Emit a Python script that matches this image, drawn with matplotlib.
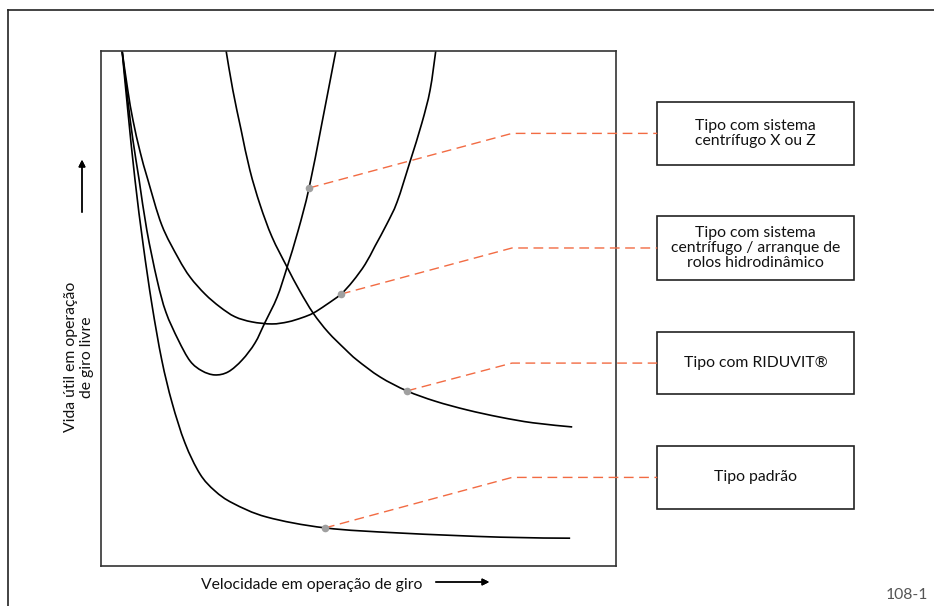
import matplotlib
matplotlib.use("Agg")
import numpy as np
import matplotlib.pyplot as plt
from matplotlib.lines import Line2D
from matplotlib.patches import Rectangle, PathPatch
from matplotlib.path import Path

plt.rcParams['font.family'] = ['Lato', 'DejaVu Sans']

W, H = 934, 606

# curves (axis units 0..100)
std_x = [4.1, 5.2, 6.6, 8.2, 9.9, 11.8, 13.8, 16.3, 19.2, 22.1, 25.6, 32.2, 43.5, 58.1,
         77.5, 91.1]
std_y = [100, 88.5, 75.0, 62.3, 50.7, 40.0, 31.7, 23.9, 17.9, 14.6, 12.2, 9.5, 7.4, 6.4,
         5.6, 5.4]

xz_x = [4.1, 5.2, 6.2, 7.4, 8.9, 10.9, 12.6, 15.0, 17.3, 19.6, 22.1, 24.7, 27.4, 29.9,
        31.8, 34.2, 36.1, 38.3, 40.4, 42.9, 45.6]
xz_y = [100, 90.5, 82.7, 75.0, 65.2, 55.5, 49.3, 43.9, 39.8, 37.9, 37.1, 37.7, 40.0, 43.3,
        47.2, 52.2, 57.9, 65.2, 73.4, 86.0, 100]

hyd_x = [4.1, 5.2, 6.2, 7.6, 9.1, 11.8, 15.0, 17.3, 20.2, 23.1, 26.0, 29.3, 33.2, 36.3,
         39.0, 41.2, 43.7, 46.6, 48.9, 51.3, 53.2, 55.5, 57.5, 60.0, 62.3, 63.9, 65.0]
hyd_y = [100, 92.4, 86.6, 80.4, 75.0, 66.2, 59.8, 56.1, 52.8, 50.3, 48.4, 47.4, 47.0, 47.4,
         48.2, 49.1, 50.7, 52.8, 55.3, 58.6, 62.1, 66.4, 70.7, 78.5, 86.0, 92.4, 100]

rid_x = [24.3, 25.6, 27.2, 28.9, 30.9, 33.2, 36.1, 38.6, 41.2, 44.1, 47.4, 49.7, 54.2,
         59.4, 64.9, 71.1, 77.5, 83.9, 91.5]
rid_y = [100, 92.4, 84.7, 76.9, 70.1, 63.9, 58.1, 53.4, 49.1, 45.4, 42.1, 40.0, 36.7,
         34.0, 32.0, 30.3, 28.9, 27.8, 27.0]

# callouts: label, point on curve, box (bottom, top)
labels = ['Tipo com sistema\ncentrífugo X ou Z',
          'Tipo com sistema\ncentrífugo / arranque de\nrolos hidrodinâmico',
          'Tipo com RIDUVIT®',
          'Tipo padrão']
dot_x = [40.4, 46.6, 59.4, 43.5]
dot_y = [73.4, 52.8, 34.0, 7.4]
box_lo = [77.9, 55.5, 33.4, 11.1]
box_hi = [90.1, 68.0, 45.4, 23.3]
box_x0, box_x1 = 108.0, 146.2
elbow_x = 79.8


def fp(x, y):
    return x / W, 1 - y / H


def smooth_path(xs, ys):
    # catmull-rom through the read points, drawn as cubic bezier segments
    p = np.column_stack([xs, ys]).astype(float)
    p = np.vstack([p[0], p, p[-1]])
    verts = [p[1]]
    codes = [Path.MOVETO]
    for i in range(1, len(p) - 2):
        c1 = p[i] + (p[i + 1] - p[i - 1]) / 6
        c2 = p[i + 1] - (p[i + 2] - p[i]) / 6
        verts += [c1, c2, p[i + 1]]
        codes += [Path.CURVE4] * 3
    return Path(verts, codes)


fig = plt.figure(figsize=(W / 100, H / 100), dpi=100)

# outer frame (top + left only)
fig.add_artist(Line2D([8 / W, 1], [1 - 10 / H, 1 - 10 / H], color='#222222', lw=1.2))
fig.add_artist(Line2D([8 / W, 8 / W], [0, 1 - 10 / H], color='#222222', lw=1.2))

ax = fig.add_axes([101 / W, 40 / H, 515 / W, 515 / H])
ax.set_xlim(0, 100)
ax.set_ylim(0, 100)
ax.set_xticks([]), ax.set_yticks([])
for s in ax.spines.values():
    s.set_color('#333333')
    s.set_linewidth(1.2)

for xs, ys in [(std_x, std_y), (xz_x, xz_y), (hyd_x, hyd_y), (rid_x, rid_y)]:
    ax.add_patch(PathPatch(smooth_path(xs, ys), fill=False, ec='black', lw=1.2,
                           joinstyle='round'))

for i in range(4):
    yc = (box_lo[i] + box_hi[i]) / 2
    ax.plot([dot_x[i], elbow_x, box_x0], [dot_y[i], yc, yc], color='#f26b43',
            lw=1.0, dashes=(7, 4), clip_on=False, zorder=3)
    ax.plot(dot_x[i], dot_y[i], 'o', color='#a0a0a0', ms=5.5, mec='none', zorder=4)
    ax.add_patch(Rectangle((box_x0, box_lo[i]), box_x1 - box_x0, box_hi[i] - box_lo[i],
                           fill=False, ec='#222222', lw=1.2, clip_on=False))
    ax.text((box_x0 + box_x1) / 2, yc, labels[i], ha='center', va='center',
            fontsize=11.3, linespacing=1.1, color='#111111')

# axis titles with arrows
fig.text(*fp(312, 585), 'Velocidade em operação de giro', ha='center', va='center',
         fontsize=11.3, color='#111111')
fig.add_artist(plt.annotate('', xy=fp(492, 582), xytext=fp(433, 582), xycoords='figure fraction',
                            arrowprops=dict(arrowstyle='-|>', color='black', lw=1.0,
                                            mutation_scale=10)))
fig.text(*fp(79, 357), 'Vida útil em operação\nde giro livre', ha='center', va='center',
         rotation=90, fontsize=11.3, linespacing=1.1, color='#111111')
fig.add_artist(plt.annotate('', xy=fp(82, 157), xytext=fp(82, 215), xycoords='figure fraction',
                            arrowprops=dict(arrowstyle='-|>', color='black', lw=1.0,
                                            mutation_scale=10)))

fig.text(*fp(907, 595), '108-1', ha='center', va='center', fontsize=11.3, color='#555555')

fig.savefig('out.png', dpi=100)
